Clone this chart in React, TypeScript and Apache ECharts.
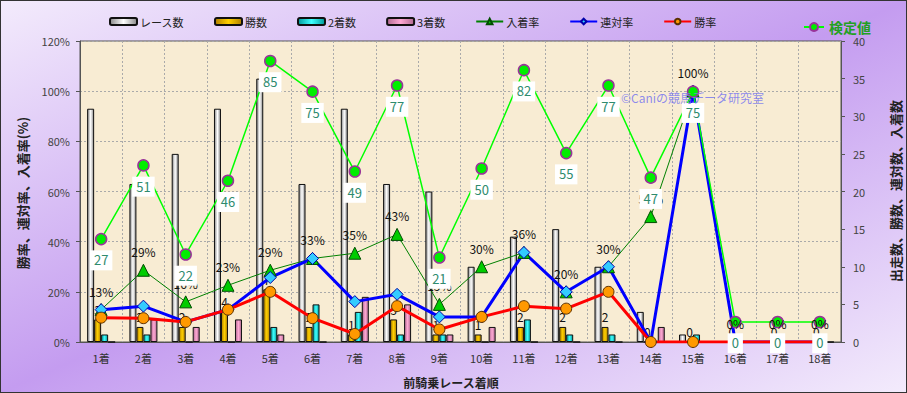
import React, { useEffect, useRef } from 'react';
import * as echarts from 'echarts';

const categories = ['1着', '2着', '3着', '4着', '5着', '6着', '7着', '8着', '9着', '10着', '11着', '12着', '13着', '14着', '15着', '16着', '17着', '18着'];
const raceCounts = [31, 21, 25, 31, 35, 21, 31, 21, 20, 10, 14, 15, 10, 4, 1, 0, 0, 0];
const winCounts = [3, 2, 2, 4, 7, 2, 1, 3, 1, 1, 2, 2, 2, 0, 0, 0, 0, 0];
const secondCounts = [1, 1, 0, 0, 2, 5, 4, 1, 1, 0, 3, 1, 1, 0, 1, 0, 0, 0];
const thirdCounts = [0, 3, 2, 3, 1, 0, 6, 5, 1, 2, 0, 0, 0, 2, 0, 0, 0, 0];
const showRate = [12.9, 28.6, 16, 22.6, 28.6, 33.3, 35.4, 42.9, 15, 30, 35.7, 20, 30, 50, 100, 0, 0, 0];
const rentaiRate = [12.9, 14.3, 8, 12.9, 25.7, 33.3, 16.1, 19, 10, 10, 35.7, 20, 30, 0, 100, 0, 0, 0];
const winRate = [9.7, 9.5, 8, 12.9, 20, 9.5, 3.2, 14.3, 5, 10, 14.3, 13.3, 20, 0, 0, 0, 0, 0];
const testValues = [27, 51, 22, 46, 85, 75, 49, 77, 21, 50, 82, 55, 77, 47, 75, 0, 0, 0];

const FONT = '"Noto Sans CJK JP", "Noto Sans", sans-serif';

const hGrad = (edge: string, mid: string) =>
  new echarts.graphic.LinearGradient(0, 0, 1, 0, [
    { offset: 0, color: edge },
    { offset: 0.5, color: mid },
    { offset: 1, color: edge },
  ]);

export default function App() {
  const ref = useRef<HTMLDivElement>(null);
  useEffect(() => {
    document.body.style.margin = '0';
    if (!ref.current) return;
    const chart = echarts.init(ref.current, undefined, { renderer: 'svg' });
    const barBase = { type: 'bar', yAxisIndex: 1, barWidth: 7, barGap: '0%' };
    chart.setOption({
      animation: false,
      textStyle: { fontFamily: FONT },
      grid: {
        left: 79, right: 65, top: 40, bottom: 50,
        show: true, backgroundColor: '#f8ecd3', borderColor: '#555', borderWidth: 1,
      },
      legend: [
        {
          data: ['レース数', '勝数', '2着数', '3着数', '入着率', '連対率', '勝率'],
          left: 103, top: 10, itemWidth: 27, itemHeight: 7, itemGap: 30,
          textStyle: { fontSize: 11, color: '#222', fontFamily: FONT, padding: [0, 0, 0, -2] },
        },
        {
          data: ['検定値'],
          left: 797, top: 14, itemWidth: 20, itemHeight: 10,
          textStyle: { fontSize: 14, color: '#22a022', fontWeight: 'bold', fontFamily: FONT },
        },
      ],
      xAxis: {
        type: 'category', data: categories, boundaryGap: true,
        axisLine: { lineStyle: { color: '#555' } },
        axisTick: { show: false },
        axisLabel: { color: '#333', fontSize: 11, margin: 10 },
        splitLine: { show: true, lineStyle: { color: '#aaa', type: [2, 2] } },
      },
      yAxis: [
        {
          type: 'value', min: 0, max: 120, interval: 20, position: 'left',
          axisLine: { show: true, lineStyle: { color: '#555' } },
          axisTick: { show: true, length: 4, lineStyle: { color: '#555' } },
          axisLabel: { formatter: '{value}%', color: '#444', fontSize: 11, margin: 10 },
          splitLine: { show: true, lineStyle: { color: '#aaa', type: [2, 2] } },
        },
        {
          type: 'value', min: 0, max: 40, interval: 5, position: 'right',
          axisLine: { show: true, lineStyle: { color: '#555' } },
          axisTick: { show: true, length: 4, lineStyle: { color: '#555' } },
          axisLabel: { color: '#444', fontSize: 11, margin: 12 },
          splitLine: { show: false },
        },
        { type: 'value', min: -6.5, max: 91.5, show: false, splitLine: { show: false } },
      ],
      graphic: [
        {
          type: 'text', x: 21, y: 192, rotation: Math.PI / 2,
          style: { text: '勝率、連対率、入着率(%)', align: 'center', verticalAlign: 'middle', fontSize: 13, fontWeight: 'bold', fill: '#222', fontFamily: FONT },
        },
        {
          type: 'text', x: 894, y: 190, rotation: Math.PI / 2,
          style: { text: '出走数、勝数、連対数、入着数', align: 'center', verticalAlign: 'middle', fontSize: 13, fontWeight: 'bold', fill: '#222', fontFamily: FONT },
        },
        {
          type: 'text', x: 450, y: 381,
          style: { text: '前騎乗レース着順', align: 'center', verticalAlign: 'middle', fontSize: 12, fontWeight: 'bold', fill: '#222', fontFamily: FONT },
        },
        {
          type: 'text', x: 620, y: 96, z: 100,
          style: { text: '©Caniの競馬データ研究室', align: 'left', verticalAlign: 'middle', fontSize: 12, fill: 'rgba(120,120,240,0.85)', fontFamily: FONT },
        },
      ],
      series: [
        {
          ...barBase, name: 'レース数', data: raceCounts,
          itemStyle: { color: hGrad('#8a8a8a', '#ffffff'), borderColor: '#111', borderWidth: 1 },
        },
        {
          ...barBase, name: '勝数', data: winCounts,
          itemStyle: { color: hGrad('#b08000', '#ffd000'), borderColor: '#111', borderWidth: 1 },
          label: { show: true, position: 'top', distance: 4, color: '#111', fontSize: 12 },
        },
        {
          ...barBase, name: '2着数', data: secondCounts,
          itemStyle: { color: hGrad('#009a9a', '#40ffff'), borderColor: '#111', borderWidth: 1 },
        },
        {
          ...barBase, name: '3着数', data: thirdCounts,
          itemStyle: { color: hGrad('#b06a90', '#ffa8d4'), borderColor: '#111', borderWidth: 1 },
        },
        {
          type: 'line', name: '入着率', yAxisIndex: 0, data: showRate,
          symbol: 'triangle', symbolSize: 12,
          lineStyle: { color: '#008000', width: 1 },
          itemStyle: { color: '#00cc00', borderColor: '#004d00', borderWidth: 1 },
          label: { show: true, position: 'top', distance: 6, color: '#111', fontSize: 12, formatter: (p: any) => Math.round(p.value) + '%' },
        },
        {
          type: 'line', name: '連対率', yAxisIndex: 0, data: rentaiRate,
          symbol: 'diamond', symbolSize: 12,
          lineStyle: { color: '#0000ff', width: 3 },
          itemStyle: { color: '#33ccff', borderColor: '#0000aa', borderWidth: 1 },
        },
        {
          type: 'line', name: '勝率', yAxisIndex: 0, data: winRate,
          symbol: 'circle', symbolSize: 11,
          lineStyle: { color: '#ff0000', width: 3 },
          itemStyle: { color: '#ff9900', borderColor: '#5a3000', borderWidth: 1 },
        },
        {
          type: 'line', name: '検定値', yAxisIndex: 2, data: testValues,
          symbol: 'circle', symbolSize: 11,
          lineStyle: { color: '#00ff00', width: 1.5 },
          itemStyle: { color: '#00ee00', borderColor: '#993399', borderWidth: 1.5 },
          label: {
            show: true, position: 'bottom', distance: 5, color: '#2e8b6e', fontSize: 13,
            backgroundColor: '#ffffff', padding: [3, 4, 4, 4],
          },
        },
      ],
    });
    return () => chart.dispose();
  }, []);
  return (
    <div
      ref={ref}
      style={{
        width: 907, height: 393, boxSizing: 'border-box', border: '1px solid #333',
        background: 'linear-gradient(to bottom right, #f3ebfc, #c49cf0 50%, #f3ebfc)',
      }}
    />
  );
}
